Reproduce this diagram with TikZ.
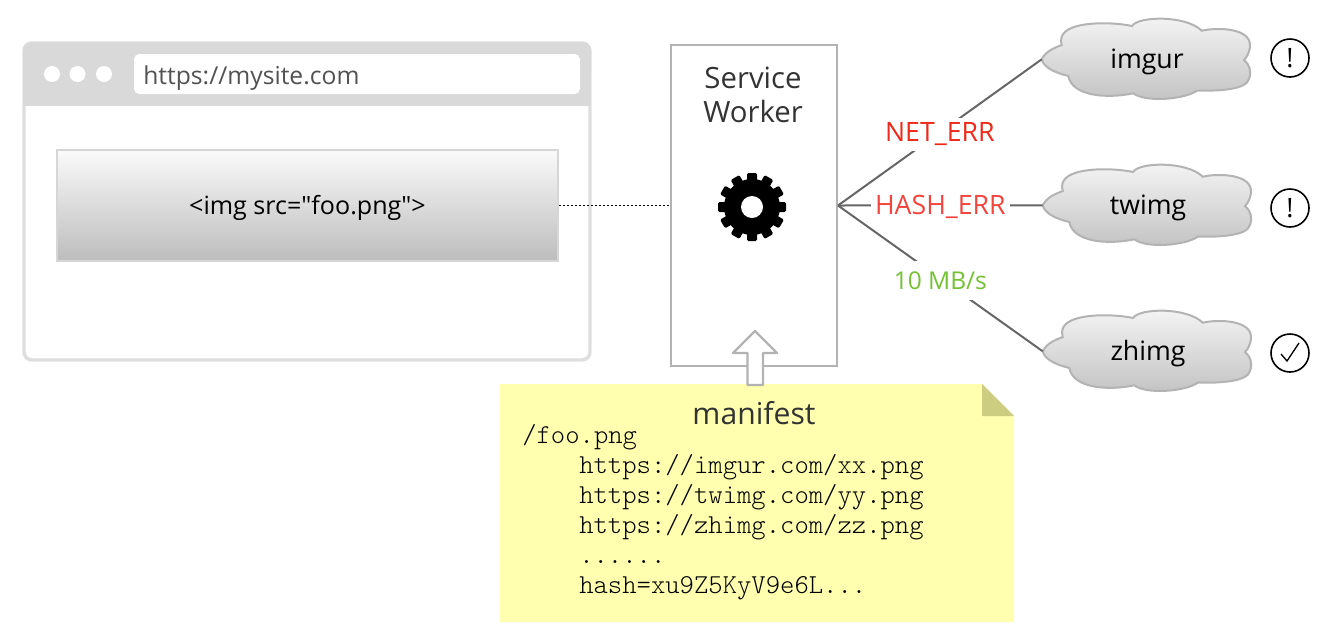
\documentclass[tikz,border=0pt]{standalone}
\usepackage{fontspec}
\setmainfont[Ligatures=TeXOff]{Open Sans}
\setmonofont{Latin Modern Mono Light}
\definecolor{chrome}{HTML}{D9D9D9}
\definecolor{framegray}{HTML}{DEDEDE}
\definecolor{boxgray}{HTML}{B3B3B3}
\definecolor{linkgray}{HTML}{666666}
\definecolor{notefill}{HTML}{FFFFAF}
\definecolor{foldfill}{HTML}{CDCD82}
\definecolor{inkdark}{HTML}{333333}
\definecolor{errone}{HTML}{EE2A1B}
\definecolor{errtwo}{HTML}{F2453D}
\definecolor{okgreen}{HTML}{74C136}
\newcommand{\hand}[1]{\fontsize{#1}{25.5pt}\selectfont}
\tikzset{
  x=0.75pt,y=-0.75pt,
  txt/.style={inner sep=0pt,align=center,font=\hand{20pt}},
  edgelabel/.style={txt,fill=white,inner xsep=3pt,inner ysep=4pt},
  linkline/.style={draw=linkgray,line width=1.5pt},
  statuscircle/.style={circle,draw=black,line width=1.2pt,minimum size=28.5pt,inner sep=0pt,fill=white,font=\hand{20pt}},
  codeline/.style={inner sep=0pt,anchor=base west,font=\ttfamily\fontsize{20.5pt}{22pt}\selectfont,text=black},
  pics/cloudshape/.style={code={
    \draw[draw=boxgray,line width=1.5pt,top color=white!96!black,bottom color=white!76!black]
      (-104.3,0.3)
      .. controls (-100,-8) and (-92,-11) .. (-84.3,-14)
      .. controls (-86,-20) and (-84,-24) .. (-82,-26)
      .. controls (-72,-38) and (-32,-37) .. (-14,-33)
      .. controls (-8,-43) and (40,-44) .. (55.7,-28.3)
      .. controls (72,-32) and (106,-31) .. (104,-12)
      .. controls (103,-6) and (101,-2) .. (98,1)
      .. controls (103,5) and (106,12) .. (103,20)
      .. controls (100,31) and (72,32) .. (50.7,31.7)
      .. controls (40,40) and (0,44) .. (-12.7,34.3)
      .. controls (-40,40) and (-74,37) .. (-77.7,17)
      .. controls (-90,14) and (-102,9) .. (-104.3,0.3) -- cycle;
    \coordinate (-tip) at (-104.3,0.3);
    \node[txt,text=black] (-label) at (1,3) {#1};
  }}
}
\begin{document}
\begin{tikzpicture}
\useasboundingbox (0,0) rectangle (1332,640);
% browser window
\draw[draw=framegray,line width=2.6pt,fill=white,rounded corners=6pt] (24,43) rectangle (590,360);
\fill[chrome,rounded corners=6pt] (23,42) rectangle (591,80);
\fill[chrome] (23,60) rectangle (591,106);
\fill[white] (52,74) circle[radius=8] (77.5,74) circle[radius=8] (104,74) circle[radius=8];
\fill[white,rounded corners=4pt] (134,54) rectangle (580,94);
\node[txt,anchor=west,text=inkdark!85!white,font=\hand{18.5pt}] (url) at (143,78) {https://mysite.com};
% image placeholder
\node[rectangle,draw=white!84!black,line width=1.5pt,top color=white!98!black,bottom color=white!74!black,
  minimum width=375.75pt,minimum height=83.25pt,inner sep=0pt,font=\hand{18.8pt},text=black,text height=14pt,text depth=0pt] (img) at (307.5,205.5) {<img src=\char34 foo.png\char34>};
% service worker
\node[rectangle,draw=boxgray,line width=1.5pt,fill=white,minimum width=124.5pt,minimum height=240.75pt,inner sep=0pt] (sw) at (754,205.5) {};
\node[txt,text=inkdark,font=\hand{22pt}] (swlabel) at (753,95) {Service\\Worker};
\draw[line width=1.4pt,black,dash pattern=on 1.5pt off 1.5pt] (img.east) -- (sw.west);
% gear
\begin{scope}[shift={(752,207)}]
  \fill[black] (0,0) circle[radius=28];
  \foreach \a in {0,30,...,330}
    \fill[black,rotate=\a,rounded corners=1pt] (-5,-34) rectangle (5,-24);
  \fill[white] (0,0) circle[radius=11];
\end{scope}
% clouds
\pic (imgur) at (1146,59) {cloudshape={imgur}};
\pic (twimg) at (1147,205) {cloudshape={twimg}};
\pic (zhimg) at (1147,351) {cloudshape={zhimg}};
% connectors
\coordinate (hub) at (sw.east);
\draw[linkline] (hub) -- (imgur-tip) node[edgelabel,text=errone,pos=0.5,yshift=-1.5pt] (neterr) {NET\_ERR};
\draw[linkline] (hub) -- (twimg-tip) node[edgelabel,text=errtwo,pos=0.5,yshift=-1pt] (hasherr) {HASH\_ERR};
\draw[linkline] (hub) -- (zhimg-tip) node[edgelabel,text=okgreen,pos=0.5,inner ysep=8pt,yshift=-1.5pt,font=\hand{18.4pt}] (speed) {10 MB/s};
% status
\node[statuscircle] (s1) at (1290,58) {!};
\node[statuscircle] (s2) at (1290,208) {!};
\node[statuscircle] (s3) at (1290,353) {};
\draw[black,line width=1pt] (1281,354) -- (1287,361) -- (1299,343);
% note
\fill[notefill] (500,384) -- (982,384) -- (1014,416) -- (1014,622) -- (500,622) -- cycle;
\fill[foldfill] (982,384) -- (1014,416) -- (982,416) -- cycle;
\draw[draw=boxgray,line width=1.8pt,fill=white,line join=round]
  (755,331) -- (777,353) -- (763,353) -- (763,385) -- (747.5,385) -- (747.5,353) -- (733,353) -- cycle;
\node[txt,text=inkdark,font=\hand{22.6pt}] (manifest) at (754,413) {manifest};
\node[codeline] (c0) at (522,443) {/foo.png};
\node[codeline] (c1) at (579,473) {https://imgur.com/xx.png};
\node[codeline] (c2) at (579,503) {https://twimg.com/yy.png};
\node[codeline] (c3) at (579,533) {https://zhimg.com/zz.png};
\node[codeline] (c4) at (579,563) {......};
\node[codeline] (c5) at (579,593) {hash=xu9Z5KyV9e6L...};
\end{tikzpicture}
\end{document}
